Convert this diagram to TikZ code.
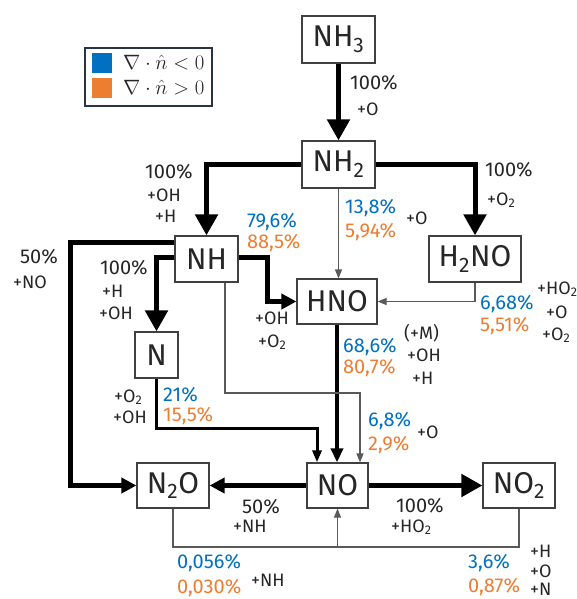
\documentclass[tikz,border=0pt]{standalone}
\usepackage{fontspec}
\setmainfont{Fira Sans}
\usetikzlibrary{arrows.meta}
\definecolor{pblue}{RGB}{0,112,192}
\definecolor{porange}{RGB}{237,125,49}
\definecolor{legframe}{RGB}{40,52,66}
\newcommand\boxfont{\fontsize{30}{30}\selectfont}
\newcommand\numfont{\fontsize{20}{20}\selectfont}
\newcommand\reafont{\fontsize{18}{18}\selectfont}
\newcommand\chsub[1]{\textsubscript{#1}}
\tikzset{
  species/.style={draw=black!75, line width=1.2pt, inner sep=0pt, font=\boxfont, text=black!85},
  flowbig/.style={line width=5pt, -{Triangle[length=21pt,width=22pt]}},
  flowmid/.style={line width=5pt, -{Triangle[length=15pt,width=15pt]}},
  flowhno/.style={line width=4pt, -{Triangle[length=14pt,width=12pt]}},
  flown/.style={line width=3pt, -{Triangle[length=12pt,width=9pt]}},
  flowthin/.style={line width=1.2pt, draw=black!65, -{Triangle[length=9pt,width=7pt]}},
  linethin/.style={line width=1.2pt, draw=black!65},
  pct/.style={anchor=west, inner sep=0pt, font=\numfont, text=black!85},
  rea/.style={anchor=west, inner sep=0pt, font=\reafont, text=black!85},
  pctb/.style={pct, text=pblue},
  pcto/.style={pct, text=porange},
  legtext/.style={anchor=west, inner sep=0pt, font=\fontsize{21}{21}\selectfont, text=black!85},
}
\begin{document}
\begin{tikzpicture}[x=1pt,y=-1pt]
\useasboundingbox (0,0) rectangle (577,599);

% legend
\draw[legframe, line width=1.5pt] (85,48) rectangle (212,106);
\node[fill=pblue, minimum size=20pt, inner sep=0pt] (sqb) at (101.5,63) {};
\node[fill=porange, minimum size=20pt, inner sep=0pt] (sqo) at (101.5,88.5) {};
\node[legtext] (legb) at (123,63) {$\nabla\cdot\hat{n}<0$};
\node[legtext] (lego) at (123,88) {$\nabla\cdot\hat{n}>0$};

% species
\node[species, minimum width=73pt, minimum height=47pt] (NH3) at (338.5,39.5) {NH\chsub{3}};
\node[species, minimum width=73pt, minimum height=47pt] (NH2) at (338.5,164.5) {NH\chsub{2}};
\node[species, minimum width=92pt, minimum height=46pt] (H2NO) at (475,259) {H\chsub{2}NO};
\node[species, minimum width=63pt, minimum height=46pt] (NH) at (206.5,259) {NH};
\node[species, minimum width=80pt, minimum height=45pt] (HNO) at (337,301.5) {HNO};
\node[species, minimum width=43pt, minimum height=46pt] (N) at (156.5,355) {N};
\node[species, minimum width=61pt, minimum height=45pt] (NO) at (337.5,485.5) {NO};
\node[species, minimum width=72pt, minimum height=45pt] (NO2) at (519,485.5) {NO\chsub{2}};
\node[species, minimum width=72pt, minimum height=45pt] (N2O) at (173,485.5) {N\chsub{2}O};

% bend points
\coordinate (hnobend) at (267,257);
\coordinate (n2obend) at (70,242);
\coordinate (nbend) at (317,428);
\coordinate (hbend) at (360,393);
\coordinate (j) at (337.5,547);

% connectors
\draw[flowbig] (NH3.south) -- (NH2.north);
\draw[flowbig] (NH2.east) -| (H2NO.north);
\draw[flowbig] (NH2.west) -| (NH.north);
\draw[flowbig] ([yshift=2pt]NH.west) -| (N.north);
\draw[flowmid] ([yshift=17pt]NH.west) -- (n2obend) |- (N2O.west);
\draw[flowmid] ([yshift=2pt]NH.east) -- (hnobend) |- (HNO.west);
\draw[flowthin] (NH2.south) -- (NH2.south |- HNO.north);
\draw[flowthin] (H2NO.south) |- (HNO.east);
\draw[flowhno] (HNO.south) -- (HNO.south |- NO.north);
\draw[flown] (N.south) |- (nbend) -- (nbend |- NO.north);
\draw[flowthin] ([xshift=18.5pt]NH.south) |- (hbend) -- (hbend |- NO.north);
\draw[flowbig] (NO.east) -- (NO2.west);
\draw[flowmid] (NO.west) -- (N2O.east);
\draw[linethin] (N2O.south) |- (j);
\draw[linethin] (NO2.south) |- (j);
\draw[flowthin] (j) -- (NO.south);

% NH3 -> NH2
\node[pct] (l1a) at (350,83) {100\%};
\node[rea] (l1b) at (357,109) {+O};
% NH2 -> H2NO
\node[pct] (l2a) at (485,170) {100\%};
\node[rea] (l2b) at (487,200) {+O\chsub{2}};
% NH2 -> NH
\node[pct] (l3a) at (145,172) {100\%};
\node[rea] (l3b) at (147,195) {+OH};
\node[rea] (l3c) at (155,216) {+H};
% NH2 -> HNO
\node[pctb] (l4a) at (345,208) {13,8\%};
\node[pcto] (l4b) at (345,232) {5,94\%};
\node[rea] (l4c) at (406,218) {+O};
% NH -> HNO
\node[pctb] (l5a) at (247,222) {79,6\%};
\node[pcto] (l5b) at (247,243) {88,5\%};
\node[rea] (l5c) at (255,318) {+OH};
\node[rea] (l5d) at (258,342) {+O\chsub{2}};
% H2NO -> HNO
\node[pctb] (l6a) at (480,304) {6,68\%};
\node[pcto] (l6b) at (480,326) {5,51\%};
\node[rea] (l6c) at (537,289) {+HO\chsub{2}};
\node[rea] (l6d) at (546,312) {+O};
\node[rea] (l6e) at (542,335) {+O\chsub{2}};
% HNO -> NO
\node[rea] (l7a) at (404,333) {(+M)};
\node[pctb] (l7b) at (343,347) {68,6\%};
\node[rea] (l7c) at (407,355) {+OH};
\node[pcto] (l7d) at (343,368) {80,7\%};
\node[rea] (l7e) at (412,378) {+H};
% NH -> N
\node[pct] (l8a) at (100,268) {100\%};
\node[rea] (l8b) at (102,291) {+H};
\node[rea] (l8c) at (99,313) {+OH};
% NH -> N2O
\node[pct] (l9a) at (20,257) {50\%};
\node[rea] (l9b) at (13,282) {+NO};
% N -> NO
\node[rea] (l10a) at (114,397) {+O\chsub{2}};
\node[rea] (l10b) at (113,417) {+OH};
\node[pctb] (l10c) at (163,395) {21\%};
\node[pcto] (l10d) at (163,416) {15,5\%};
% NH -> NO
\node[pctb] (l11a) at (368,421) {6,8\%};
\node[pcto] (l11b) at (368,445) {2,9\%};
\node[rea] (l11c) at (417,432) {+O};
% NO -> NO2
\node[pct] (l12a) at (396,506) {100\%};
\node[rea] (l12b) at (391,527) {+HO\chsub{2}};
% NO -> N2O
\node[pct] (l13a) at (242,507) {50\%};
\node[rea] (l13b) at (233,526) {+NH};
% N2O -> NO
\node[pctb] (l14a) at (177,563) {0,056\%};
\node[pcto] (l14b) at (177,588) {0,030\%};
\node[rea] (l14c) at (251,580) {+NH};
% NO2 -> NO
\node[pctb] (l15a) at (468,563) {3,6\%};
\node[pcto] (l15b) at (468,587) {0,87\%};
\node[rea] (l15c) at (530,551) {+H};
\node[rea] (l15d) at (530,571) {+O};
\node[rea] (l15e) at (530,589) {+N};
\end{tikzpicture}
\end{document}
